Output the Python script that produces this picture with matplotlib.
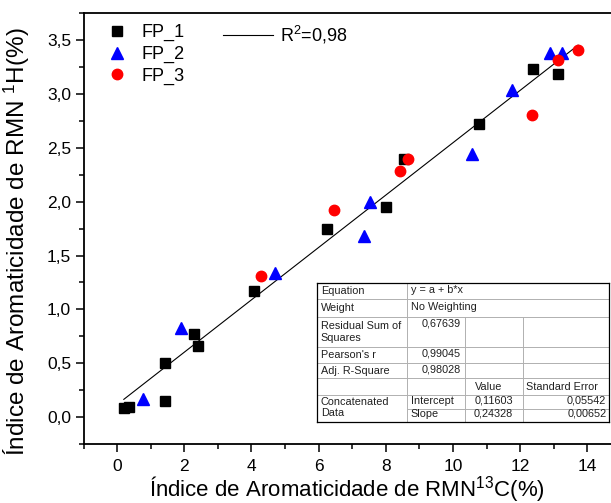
import numpy as np
import matplotlib.pyplot as plt
from matplotlib.lines import Line2D
from matplotlib.ticker import MultipleLocator, FuncFormatter

plt.rcParams['font.family'] = ['Liberation Sans', 'DejaVu Sans']
plt.rcParams['mathtext.fontset'] = 'custom'
plt.rcParams['mathtext.rm'] = 'Liberation Sans'
plt.rcParams['mathtext.it'] = 'Liberation Sans'

# data
fp1_x = [0.2, 0.35, 1.43, 1.43, 2.28, 2.42, 4.07, 6.26, 7.99, 8.54, 10.77, 12.38, 13.12]
fp1_y = [0.08, 0.09, 0.15, 0.50, 0.77, 0.66, 1.17, 1.75, 1.95, 2.40, 2.72, 3.23, 3.19]
fp2_x = [0.76, 1.89, 4.71, 7.35, 7.54, 10.56, 11.75, 12.88, 13.25]
fp2_y = [0.17, 0.83, 1.34, 1.68, 2.00, 2.44, 3.04, 3.38, 3.38]
fp3_x = [4.29, 6.45, 8.41, 8.66, 12.35, 13.12, 13.72]
fp3_y = [1.31, 1.92, 2.29, 2.40, 2.81, 3.32, 3.41]

intercept = 0.11603
slope = 0.24328
fit_x = [0.2, 13.72]

table_rows = [
    ["Equation", "y = a + b*x"],
    ["Weight", "No Weighting"],
    ["Residual Sum of\nSquares", "0,67639"],
    ["Pearson's r", "0,99045"],
    ["Adj. R-Square", "0,98028"],
]
coef_names = ["Intercept", "Slope"]
coef_values = ["0,11603", "0,24328"]
coef_errors = ["0,05542", "0,00652"]

W, H = 611, 503
fig = plt.figure(figsize=(W / 100, H / 100), dpi=100)
ax = fig.add_axes([83.5 / W, 1 - 444 / H, 1 - 83.5 / W, (444 - 13.3) / H])

ax.plot(fp1_x, fp1_y, 's', color='black', markersize=6.5, label='FP_1', zorder=3)
ax.plot(fp2_x, fp2_y, '^', color='#0000ff', markersize=8.5, label='FP_2', zorder=3)
ax.plot(fp3_x, fp3_y, 'o', color='#ff0000', markersize=7.5, label='FP_3', zorder=3)
fx = np.array(fit_x)
ln, = ax.plot(fx, intercept + slope * fx, '-', color='black', lw=0.8,
              label='R$^2$=0,98', zorder=2)

ax.set_xlim(-1, 14.7)
ax.set_ylim(-0.25, 3.75)
ax.xaxis.set_major_locator(MultipleLocator(2))
ax.xaxis.set_minor_locator(MultipleLocator(1))
ax.yaxis.set_major_locator(MultipleLocator(0.5))
ax.yaxis.set_minor_locator(MultipleLocator(0.25))
ax.yaxis.set_major_formatter(FuncFormatter(lambda v, p: f"{v:.1f}".replace('.', ',')))
ax.tick_params(which='major', direction='out', length=6, width=1.1, labelsize=12.5, pad=3)
ax.tick_params(axis='x', which='major', pad=5)
ax.tick_params(which='minor', direction='out', length=3.5, width=1.1)
ax.spines['right'].set_visible(False)
for s in ['left', 'bottom', 'top']:
    ax.spines[s].set_linewidth(1.3)

ax.set_xlabel('Índice de Aromaticidade de RMN$^{13}$C(%)', fontsize=16, labelpad=0)
ax.set_ylabel('Índice de Aromaticidade de RMN $^{1}$H(%)', fontsize=17.5)
ax.yaxis.set_label_coords(-0.098, 0.47)

h, l = ax.get_legend_handles_labels()
leg1 = ax.legend(h[:3], l[:3], loc='upper left', bbox_to_anchor=(0.025, 1.0),
                 frameon=False, fontsize=13, handlelength=1.0, handletextpad=0.9,
                 labelspacing=0.25, borderaxespad=0.3, borderpad=0.3)
ax.add_artist(leg1)
ax.legend([ln], [l[3]], loc='upper left', bbox_to_anchor=(0.243, 1.0),
          frameon=False, fontsize=13, handlelength=2.8, handletextpad=0.4,
          borderaxespad=0.3, borderpad=0.3)


# stats table drawn in pixel coordinates
def P(x, y):
    return x / W, 1 - y / H


def hline(x0, x1, y, c='#b0b0b0', lw=0.7):
    a, b = P(x0, y)
    c2, _ = P(x1, y)
    fig.add_artist(Line2D([a, c2], [b, b], color=c, lw=lw))


def vline(x, y0, y1, c='#b0b0b0', lw=0.7):
    a, b = P(x, y0)
    _, d = P(x, y1)
    fig.add_artist(Line2D([a, a], [b, d], color=c, lw=lw))


def txt(x, y, s, ha='left'):
    a, b = P(x, y)
    fig.text(a, b, s, ha=ha, va='center', fontsize=7.8, color='#202020',
             linespacing=1.2)


cx = [316.7, 406.7, 465, 523.3, 609.3]
ry = [283.3, 299.3, 317, 347, 363.3, 378.3, 395, 409, 421.7]

fig.add_artist(plt.Rectangle(P(cx[0], ry[-1]), (cx[-1] - cx[0]) / W,
                             (ry[-1] - ry[0]) / H, facecolor='white',
                             edgecolor='none', zorder=0.5))
for y in ry[1:-1]:
    x0 = cx[1] if y == ry[7] else cx[0]
    hline(x0, cx[-1], y)
vline(cx[1], ry[0], ry[-1])
vline(cx[2], ry[2], ry[-1])
vline(cx[3], ry[2], ry[-1])
hline(cx[0], cx[-1], ry[0], c='black', lw=0.9)
hline(cx[0], cx[-1], ry[-1], c='black', lw=0.9)
vline(cx[0], ry[0], ry[-1], c='black', lw=0.9)
vline(cx[-1], ry[0], ry[-1], c='black', lw=0.9)

for i, (name, val) in enumerate(table_rows):
    yc = (ry[i] + ry[i + 1]) / 2
    txt(cx[0] + 4, yc, name)
    if i < 2:
        txt(cx[1] + 4, yc - 1.5, val)
    elif i == 2:
        txt(cx[2] - 4, ry[i] + 7, val, ha='right')
    else:
        txt(cx[2] - 4, yc - 1.5, val, ha='right')

yc = (ry[5] + ry[6]) / 2
txt((cx[2] + cx[3]) / 2 - 6, yc, "Value", ha='center')
txt(cx[3] + 3, yc, "Standard Error")
txt(cx[0] + 4, (ry[6] + ry[8]) / 2 - 1, "Concatenated\nData")
for j in range(2):
    yc = (ry[6 + j] + ry[7 + j]) / 2 - 1.5
    txt(cx[1] + 4, yc, coef_names[j])
    txt(cx[3] - 10, yc, coef_values[j], ha='right')
    txt(cx[4] - 3, yc, coef_errors[j], ha='right')

fig.savefig('out.png', dpi=100)
